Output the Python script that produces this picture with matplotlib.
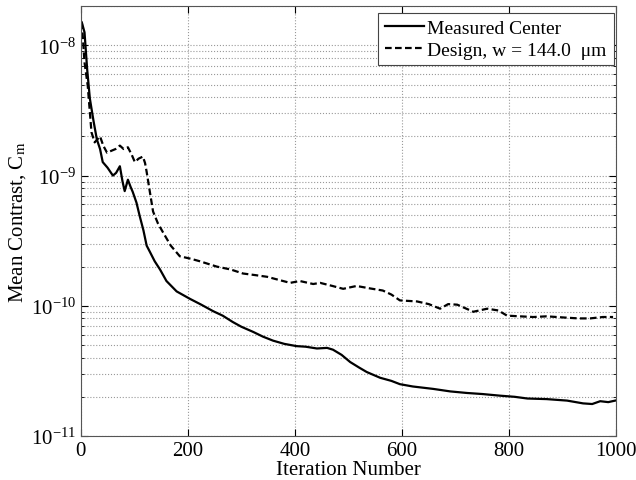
import matplotlib.pyplot as plt
from matplotlib.ticker import LogLocator, NullFormatter

plt.rcParams['font.family'] = ['Liberation Serif', 'DejaVu Serif']
plt.rcParams['mathtext.fontset'] = 'stix'

# Measured center curve (iteration, mean contrast)
measured_iter = [2, 7, 12, 17, 24, 30, 36, 41, 50, 60, 66, 73, 78, 82, 88, 93, 97,
                 104, 110, 117, 123, 129, 138, 148, 160, 179, 204, 225, 247, 265,
                 284, 300, 322, 340, 359, 380, 403, 420, 441, 460, 471, 487, 503,
                 520, 534, 559, 580, 596, 620, 658, 690, 721, 750, 783, 810, 834,
                 870, 908, 938, 955, 970, 985, 998]
measured_val = [1.5e-8, 1.26e-8, 6.5e-9, 3.9e-9, 2.6e-9, 1.9e-9, 1.6e-9, 1.27e-9,
                1.15e-9, 1.0e-9, 1.05e-9, 1.18e-9, 9.0e-10, 7.6e-10, 9.3e-10,
                8.2e-10, 7.5e-10, 6.2e-10, 4.9e-10, 3.8e-10, 2.9e-10, 2.6e-10,
                2.2e-10, 1.9e-10, 1.55e-10, 1.29e-10, 1.13e-10, 1.02e-10, 9.1e-11,
                8.4e-11, 7.5e-11, 6.9e-11, 6.3e-11, 5.8e-11, 5.4e-11, 5.1e-11,
                4.9e-11, 4.85e-11, 4.7e-11, 4.75e-11, 4.6e-11, 4.2e-11, 3.7e-11,
                3.35e-11, 3.1e-11, 2.8e-11, 2.65e-11, 2.5e-11, 2.4e-11, 2.3e-11,
                2.2e-11, 2.14e-11, 2.1e-11, 2.04e-11, 2.0e-11, 1.94e-11, 1.92e-11,
                1.87e-11, 1.78e-11, 1.76e-11, 1.85e-11, 1.82e-11, 1.87e-11]

# Design curve, w = 144.0 um
design_iter = [2, 7, 13, 20, 26, 31, 36, 42, 49, 57, 65, 73, 80, 88, 95, 101, 108,
               116, 120, 123, 129, 135, 144, 153, 168, 185, 205, 222, 254, 280,
               303, 326, 348, 370, 391, 409, 434, 447, 470, 490, 515, 540, 564,
               580, 596, 628, 650, 671, 686, 703, 733, 759, 780, 796, 820, 845,
               870, 908, 930, 951, 975, 994]
design_val = [1.5e-8, 7.4e-9, 4.9e-9, 2.15e-9, 1.8e-9, 1.9e-9, 2.0e-9, 1.7e-9,
              1.5e-9, 1.55e-9, 1.6e-9, 1.7e-9, 1.6e-9, 1.65e-9, 1.45e-9, 1.27e-9,
              1.35e-9, 1.4e-9, 1.25e-9, 1.07e-9, 7.5e-10, 5.3e-10, 4.3e-10,
              3.7e-10, 2.9e-10, 2.4e-10, 2.3e-10, 2.2e-10, 2.0e-10, 1.9e-10,
              1.77e-10, 1.72e-10, 1.67e-10, 1.58e-10, 1.5e-10, 1.55e-10, 1.47e-10,
              1.5e-10, 1.42e-10, 1.35e-10, 1.42e-10, 1.36e-10, 1.31e-10, 1.22e-10,
              1.1e-10, 1.08e-10, 1.03e-10, 9.5e-11, 1.03e-10, 1.02e-10, 9.0e-11,
              9.5e-11, 9.2e-11, 8.4e-11, 8.3e-11, 8.2e-11, 8.3e-11, 8.1e-11,
              8.0e-11, 8.0e-11, 8.2e-11, 8.2e-11]

fig = plt.figure(figsize=(6.36, 4.81), dpi=100)
ax = fig.add_axes([0.127, 0.0915, 0.842, 0.8935])

ax.plot(measured_iter, measured_val, 'k-', lw=1.6, label='Measured Center')
ax.plot(design_iter, design_val, 'k--', lw=1.6, dashes=(3, 1.5),
        label='Design, w = 144.0  \u03bcm')

ax.set_yscale('log')
ax.set_xlim(0, 1000)
ax.set_ylim(1e-11, 2e-8)
ax.set_xticks([0, 200, 400, 600, 800, 1000])
ax.yaxis.set_minor_locator(LogLocator(base=10, subs=range(2, 10)))
ax.yaxis.set_minor_formatter(NullFormatter())

ax.grid(True, which='major', axis='both', ls=':', color='#999999', lw=0.8)
ax.grid(True, which='minor', axis='y', ls=':', color='#999999', lw=0.8)

ax.tick_params(which='both', direction='in', top=True, right=True, labelsize=15)
ax.tick_params(which='major', length=5)
ax.tick_params(which='minor', length=2.5)
for s in ax.spines.values():
    s.set_color('#555555')

ax.set_xlabel('Iteration Number', fontsize=15, labelpad=0)
ax.set_ylabel(r'Mean Contrast, C$_\mathrm{m}$', fontsize=15, labelpad=2)

leg = ax.legend(loc='upper right', bbox_to_anchor=(0.995, 0.985), fontsize=14,
                fancybox=False, framealpha=1, edgecolor='#444444',
                handlelength=2.0, handletextpad=0.2, borderpad=0.35,
                labelspacing=0.2, borderaxespad=0)
leg.get_frame().set_linewidth(0.8)

fig.savefig('out.png', dpi=100)
